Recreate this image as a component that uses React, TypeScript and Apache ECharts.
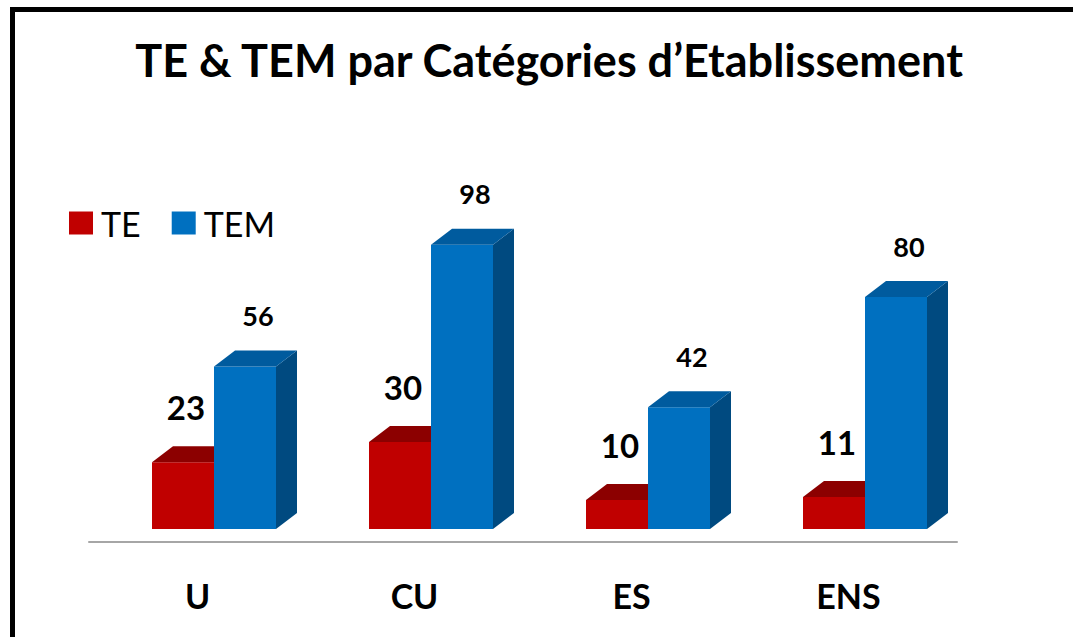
import React, { useEffect, useRef } from 'react';
import * as echarts from 'echarts';

const categories = ['U', 'CU', 'ES', 'ENS'];
const teValues = [23, 30, 10, 11];
const temValues = [56, 98, 42, 80];
const seriesNames = ['TE', 'TEM'];
const titleText = 'TE & TEM par Catégories d’Etablissement';

const FONT = 'Lato, "Open Sans", sans-serif';
const BAR_W = 62;
const DX = 21;
const DY = 16;
const LIFT = 13;

function makeRender(
  offset: number,
  front: string,
  topC: string,
  side: string,
  labelDx: number,
  labelDy: number,
  labelSize: number
) {
  return (_params: any, api: any) => {
    const idx = api.value(0);
    const v = api.value(1);
    const pTop = api.coord([idx, v]);
    const pBase = api.coord([idx, 0]);
    const x0 = pTop[0] + offset;
    const x1 = x0 + BAR_W;
    const yT = pTop[1] - LIFT;
    const yB = pBase[1] - LIFT;
    return {
      type: 'group',
      children: [
        {
          type: 'polygon',
          shape: { points: [[x1, yT], [x1 + DX, yT - DY], [x1 + DX, yB - DY], [x1, yB]] },
          style: { fill: side },
        },
        {
          type: 'rect',
          shape: { x: x0, y: yT, width: BAR_W, height: yB - yT },
          style: { fill: front },
        },
        {
          type: 'polygon',
          shape: { points: [[x0, yT], [x1, yT], [x1 + DX, yT - DY], [x0 + DX, yT - DY]] },
          style: { fill: topC },
        },
        {
          type: 'text',
          x: (x0 + x1) / 2 + labelDx,
          y: yT + labelDy,
          style: {
            text: String(v),
            fill: '#000',
            font: `bold ${labelSize}px ${FONT}`,
            align: 'center',
            verticalAlign: 'middle',
          },
        },
      ],
    };
  };
}

export default function App() {
  const ref = useRef<HTMLDivElement>(null);
  useEffect(() => {
    if (!ref.current) return;
    const chart = echarts.init(ref.current, undefined, { renderer: 'svg' });
    chart.setOption({
      animation: false,
      backgroundColor: '#ffffff',
      grid: { left: 89, right: 119, top: 252, bottom: 95 },
      legend: {
        left: 64,
        top: 201,
        icon: 'rect',
        itemWidth: 24,
        itemHeight: 23,
        itemGap: 31,
        data: seriesNames,
        textStyle: { fontSize: 34, fontFamily: FONT, color: '#000', padding: [0, 0, 0, 3] },
      },
      xAxis: {
        type: 'category',
        data: categories,
        axisLine: { lineStyle: { color: '#a6a6a6', width: 2 } },
        axisTick: { show: false },
        axisLabel: {
          fontSize: 34,
          fontWeight: 'bold',
          fontFamily: FONT,
          color: '#000',
          margin: 53,
          verticalAlign: 'middle',
        },
      },
      yAxis: { type: 'value', min: 0, max: 100, show: false },
      graphic: [
        {
          type: 'text',
          x: 549,
          y: 60,
          style: {
            text: titleText,
            fill: '#000',
            font: `bold 45px ${FONT}`,
            align: 'center',
            verticalAlign: 'middle',
          },
        },
        {
          type: 'polyline',
          shape: { points: [[12.5, 700], [12.5, 9.5], [1073, 9.5]] },
          style: { stroke: '#000', lineWidth: 5, fill: 'none' },
        },
      ],
      series: [
        {
          name: seriesNames[0],
          type: 'custom',
          clip: false,
          itemStyle: { color: '#C00000' },
          encode: { x: 0, y: 1 },
          data: teValues.map((v, i) => [i, v]),
          renderItem: makeRender(-45.5, '#C00000', '#8C0000', '#900000', 3, -55, 33),
        },
        {
          name: seriesNames[1],
          type: 'custom',
          clip: false,
          itemStyle: { color: '#0070C0' },
          encode: { x: 0, y: 1 },
          data: temValues.map((v, i) => [i, v]),
          renderItem: makeRender(16.5, '#0070C0', '#005B9E', '#004A80', 13, -51, 27),
        },
      ],
    });
    return () => chart.dispose();
  }, []);
  return (
    <div
      ref={ref}
      style={{ position: 'fixed', left: 0, top: 0, width: 1076, height: 637, background: '#fff' }}
    />
  );
}
